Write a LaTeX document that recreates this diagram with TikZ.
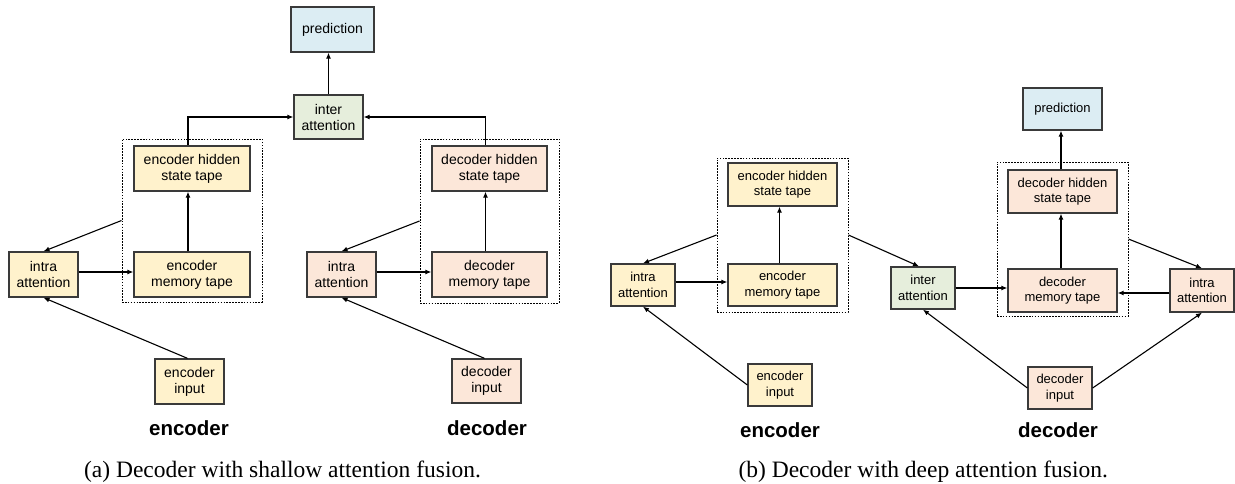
\documentclass[tikz,border=0pt]{standalone}
\usepackage{fontspec}
\setmainfont{Liberation Serif}
\setsansfont{Liberation Sans}
\usetikzlibrary{arrows.meta,calc}
\definecolor{encfill}{HTML}{FFF2CC}
\definecolor{decfill}{HTML}{FCE7D9}
\definecolor{interfill}{HTML}{E6EEDC}
\definecolor{predfill}{HTML}{DCEDF3}
\definecolor{boxline}{HTML}{3A3A3A}
\tikzset{
  box/.style={draw=boxline, line width=1.3pt, inner sep=0pt, align=center,
    font=\sffamily\fontsize{14}{16}\selectfont},
  boxb/.style={box, font=\sffamily\fontsize{13}{15.5}\selectfont},
  enc/.style={fill=encfill},
  dec/.style={fill=decfill},
  inter/.style={fill=interfill},
  pred/.style={fill=predfill},
  dims/.style 2 args={minimum width=#1pt, minimum height=#2pt},
  group/.style={draw=black, line width=0.9pt, dash pattern=on 1.6pt off 1.3pt, inner sep=0pt},
  conn/.style={draw=black, line width=1.1pt, -{Latex[length=6pt,width=5pt]}},
  sidelabel/.style={font=\sffamily\bfseries\fontsize{20.5}{24}\selectfont},
  captionlabel/.style={font=\rmfamily\fontsize{23.5}{28}\selectfont}
}
\begin{document}
\begin{tikzpicture}[x=1pt,y=-1pt]
\useasboundingbox (0,0) rectangle (1235,484);

% ---------------- panel (a) ----------------
\node[group, minimum width=140pt, minimum height=163pt] (encDashA) at (192,220.5) {};
\node[group, minimum width=139pt, minimum height=164pt] (decDashA) at (489.5,221) {};

\node[box, pred, dims={83}{45}] (predA) at (332.5,29.5) {prediction};
\node[box, inter, dims={69}{44}] (interA) at (328.5,117) {inter\\attention};
\node[box, enc, dims={116}{45}] (encHidA) at (192,168.5) {encoder hidden\\state tape};
\node[box, enc, dims={116}{45}] (encMemA) at (192,274.5) {encoder\\memory tape};
\node[box, enc, dims={69}{45}] (encIntraA) at (43.5,274.5) {intra\\attention};
\node[box, enc, dims={69}{45}] (encInA) at (189.5,381.5) {encoder\\input};
\node[box, dec, dims={115}{45}] (decHidA) at (489.5,168.5) {decoder hidden\\state tape};
\node[box, dec, dims={115}{45}] (decMemA) at (489.5,274.5) {decoder\\memory tape};
\node[box, dec, dims={69}{45}] (decIntraA) at (341.5,274.5) {intra\\attention};
\node[box, dec, dims={69}{44}] (decInA) at (486.5,381) {decoder\\input};

\node[sidelabel] (encLabA) at (189,428) {encoder};
\node[sidelabel] (decLabA) at (487,428) {decoder};
\node[captionlabel] (capA) at (282.5,472) {(a) Decoder with shallow attention fusion.};

\draw[conn] (interA.north) -- (predA.south -| interA.north);
\draw[conn] ([xshift=-4pt]encHidA.north) |- (interA.west);
\draw[conn] ([xshift=-4pt]decHidA.north) |- (interA.east);
\draw[conn] ([xshift=-4pt]encMemA.north) -- ([xshift=-4pt]encHidA.south);
\draw[conn] ([xshift=-4pt]decMemA.north) -- ([xshift=-4pt]decHidA.south);
\draw[conn] ([yshift=2.5pt]encIntraA.east) -- ([yshift=2.5pt]encMemA.west);
\draw[conn] ([yshift=2.5pt]decIntraA.east) -- ([yshift=2.5pt]decMemA.west);
\draw[conn] ([xshift=-2pt]encInA.north) -- (encIntraA.south);
\draw[conn] ([xshift=-2pt]decInA.north) -- (decIntraA.south);
\draw[conn] (encDashA.west) -- (encIntraA.north);
\draw[conn] (decDashA.west) -- (decIntraA.north);

% ---------------- panel (b) ----------------
\node[group, minimum width=131pt, minimum height=154pt] (encDashB) at (782.5,235) {};
\node[group, minimum width=131pt, minimum height=154pt] (decDashB) at (1062.5,239) {};

\node[boxb, enc, dims={64}{42}] (encIntraB) at (643,285) {intra\\attention};
\node[boxb, enc, dims={109}{43}] (encHidB) at (782.5,184.5) {encoder hidden\\state tape};
\node[boxb, enc, dims={109}{42}] (encMemB) at (782.5,285) {encoder\\memory tape};
\node[boxb, enc, dims={64}{42}] (encInB) at (780,385) {encoder\\input};
\node[boxb, inter, dims={64}{42}] (interB) at (923,288) {inter\\attention};
\node[boxb, pred, dims={79}{42}] (predB) at (1062.5,109) {prediction};
\node[boxb, dec, dims={109}{43}] (decHidB) at (1062.5,191.5) {decoder hidden\\state tape};
\node[boxb, dec, dims={109}{43}] (decMemB) at (1062.5,290.5) {decoder\\memory tape};
\node[boxb, dec, dims={64}{43}] (decIntraB) at (1202,290.5) {intra\\attention};
\node[boxb, dec, dims={64}{42}] (decInB) at (1060,388) {decoder\\input};

\node[sidelabel] (encLabB) at (780,430) {encoder};
\node[sidelabel] (decLabB) at (1058,430) {decoder};
\node[captionlabel, anchor=west] (capB) at (735,472) {(b) Decoder with deep attention fusion.};

\draw[conn] (encDashB.west) -- (encIntraB.north);
\draw[conn] (encDashB.east) -- ([xshift=-4pt]interB.north);
\draw[conn] ([yshift=3pt]encIntraB.east) -- ([yshift=3pt]encMemB.west);
\draw[conn] ([xshift=-3pt]encMemB.north) -- ([xshift=-3pt]encHidB.south);
\draw[conn] (encInB.west) -- (encIntraB.south);
\draw[conn] (interB.east) -- (interB.east -| decMemB.west);
\draw[conn] ([yshift=-2.5pt]decIntraB.west) -- ([yshift=-2.5pt]decMemB.east);
\draw[conn] ([xshift=-1.5pt]decMemB.north) -- ([xshift=-1.5pt]decHidB.south);
\draw[conn] ([xshift=-1.5pt]decHidB.north) -- ([xshift=-1.5pt]predB.south);
\draw[conn] (decDashB.east) -- (decIntraB.north);
\draw[conn] (decInB.west) -- (interB.south);
\draw[conn] (decInB.east) -- (decIntraB.south);
\end{tikzpicture}
\end{document}
